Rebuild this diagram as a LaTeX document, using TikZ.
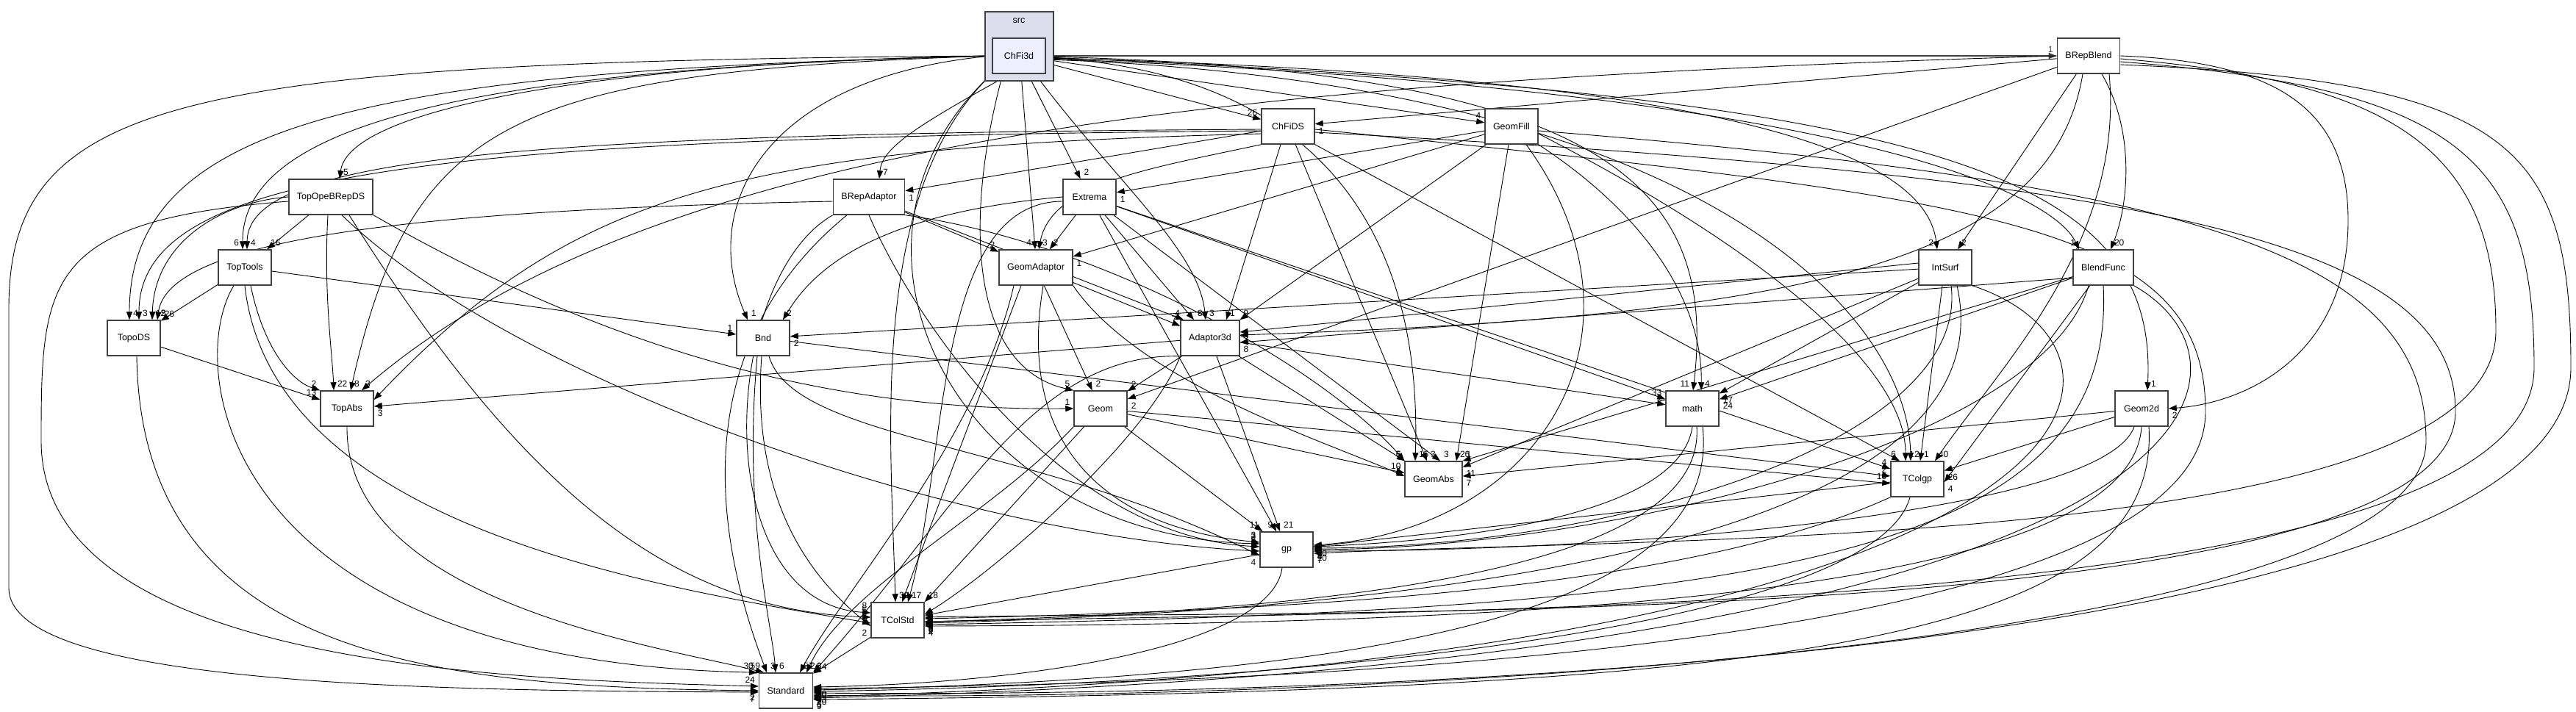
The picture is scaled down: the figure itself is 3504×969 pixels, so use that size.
\documentclass[tikz,border=0pt]{standalone}
\usepackage{fontspec}
\setmainfont{Liberation Sans}
\usetikzlibrary{arrows.meta}
\pgfdeclarelayer{edges}
\pgfsetlayers{edges,main}
\definecolor{dirborder}{HTML}{404040}
\definecolor{srcfill}{HTML}{DDDDEE}
\definecolor{mainfill}{HTML}{EEEEFF}
\newcommand{\dirfont}{\fontsize{12.5}{15}\selectfont}
\newcommand{\cntfont}{\fontsize{12}{14}\selectfont}

\begin{document}
\begin{tikzpicture}[
  x=1pt, y=-1pt,
  dirbox/.style={draw=dirborder, line width=1.5pt, fill=white, minimum width=72pt, minimum height=48pt, inner xsep=11pt, font=\dirfont},
  dep/.style={-{Triangle[length=11pt,width=8pt]}, line width=0.9pt, black},
  hl/.style={pos=1, anchor=#1, inner sep=1pt, outer sep=4pt, font=\cntfont}
]
\useasboundingbox (0,0) rectangle (3504,969);

\node[draw=dirborder, line width=1.5pt, fill=srcfill, minimum width=93pt, minimum height=94pt] (srcdir) at (1386.5,63) {};
\node[font=\dirfont] (srclabel) at (1386,28) {src};
\node[dirbox, fill=mainfill] (chfi3d) at (1386,76) {ChFi3d};
\node[dirbox] (brepblend) at (2841,76) {BRepBlend};
\node[dirbox] (chfids) at (1752,172) {ChFiDS};
\node[dirbox] (geomfill) at (2056,172) {GeomFill};
\node[dirbox] (topope) at (450,268) {TopOpeBRepDS};
\node[dirbox] (brepadapt) at (1182,268) {BRepAdaptor};
\node[dirbox] (extrema) at (1482,268) {Extrema};
\node[dirbox] (toptools) at (333,364) {TopTools};
\node[dirbox] (geomadapt) at (1409,364) {GeomAdaptor};
\node[dirbox] (intsurf) at (2646,364) {IntSurf};
\node[dirbox] (blendfunc) at (2861,364) {BlendFunc};
\node[dirbox] (topods) at (182,460) {TopoDS};
\node[dirbox] (bnd) at (1038,460) {Bnd};
\node[dirbox] (adapt3d) at (1646,460) {Adaptor3d};
\node[dirbox] (topabs) at (472,556) {TopAbs};
\node[dirbox] (geom) at (1497,556) {Geom};
\node[dirbox] (math) at (2302,556) {math};
\node[dirbox] (geom2d) at (2913,556) {Geom2d};
\node[dirbox] (geomabs) at (1950,652) {GeomAbs};
\node[dirbox] (tcolgp) at (2608,652) {TColgp};
\node[dirbox] (gp) at (1750,748) {gp};
\node[dirbox] (tcolstd) at (1221,844) {TColStd};
\node[dirbox] (standard) at (1069,940) {Standard};

\begin{pgfonlayer}{edges}
\draw[dep, line width=1.6pt, black!75] (chfi3d.east) -- (brepblend.west) node[hl=south east] {1};
\draw[dep] (chfi3d) -- (chfids) node[hl=south east] {26};
\draw[dep] (chfi3d) -- (geomfill) node[hl=south east] {4};
\draw[dep] (chfi3d.west) .. controls (800,86) and (474,150) .. ([xshift=12pt]topope.north) node[hl=south west] {5};
\draw[dep] (chfi3d.west) .. controls (640,92) and (330,170) .. ([xshift=-3pt]toptools.north) node[hl=south east] {6};
\draw[dep] (chfi3d.west) .. controls (520,96) and (176,160) .. ([xshift=-6pt]topods.north) node[hl=south west] {4};
\draw[dep] (chfi3d.west) .. controls (700,98) and (560,160) .. ([xshift=5pt]topabs.north) node[hl=south west] {8};
\draw[dep] (chfi3d.west) .. controls (1040,104) and (950,280) .. ([xshift=-21pt]bnd.north) node[hl=south west] {1};
\draw[dep] (chfi3d.west) .. controls (250,84) and (12,130) .. (12,420) -- (12,800) .. controls (12,935) and (600,940) .. ([yshift=-2pt]standard.west) node[hl=north east] {7};
\draw[dep] ([xshift=-12pt]chfi3d.south) .. controls (1250,170) and (1200,200) .. ([xshift=14pt]brepadapt.north) node[hl=south west] {7};
\draw[dep] (chfi3d) -- (extrema) node[hl=south west] {2};
\draw[dep] ([xshift=3pt]chfi3d.south) -- ([xshift=-1pt]geomadapt.north) node[hl=south east] {4};
\draw[dep] ([xshift=22pt]chfi3d.south) .. controls (1520,250) and (1630,340) .. ([xshift=-6pt]adapt3d.north) node[hl=south west] {3};
\draw[dep] ([xshift=-22pt]chfi3d.south) .. controls (1310,300) and (1320,500) .. (geom.north west) node[hl=south east] {5};
\draw[dep] (chfi3d.south west) .. controls (1180,260) and (1212,600) .. ([xshift=-3pt]tcolstd.north) node[hl=south west] {39};
\draw[dep] (chfi3d.south west) .. controls (1100,330) and (1300,730) .. ([yshift=8pt]gp.west) node[hl=south east] {3};
\draw[dep] ([yshift=-2pt]chfi3d.east) .. controls (1800,100) and (1935,320) .. ([xshift=-25pt]geomabs.north) node[hl=south west] {15};
\draw[dep] ([yshift=-1pt]chfi3d.east) .. controls (2200,96) and (2335,260) .. ([xshift=1pt]math.north) node[hl=south east] {11};
\draw[dep] ([yshift=-3pt]chfi3d.east) .. controls (2400,104) and (2620,220) .. ([xshift=-11pt]intsurf.north) node[hl=south east] {2};
\draw[dep] ([yshift=-4pt]chfi3d.east) .. controls (2500,120) and (2790,260) .. ([xshift=-33pt]blendfunc.north) node[hl=south east] {1};
\draw[dep] ([yshift=-2pt]chfi3d.east) .. controls (2650,130) and (2935,240) .. ([xshift=8pt]geom2d.north) node[hl=south west] {1};
\draw[dep] ([yshift=-5pt]chfi3d.east) .. controls (2300,110) and (2595,420) .. ([xshift=-9pt]tcolgp.north) node[hl=south west] {2};

\draw[dep] (brepblend) -- (chfids) node[hl=north west] {1};
\draw[dep] (brepblend) -- ([xshift=17pt]intsurf.north) node[hl=south west] {2};
\draw[dep] ([xshift=18pt]brepblend.south) .. controls (2905,180) and (2895,280) .. ([xshift=10pt]blendfunc.north) node[hl=south west] {20};
\draw[dep] (brepblend.east) .. controls (3100,84) and (3194,150) .. (3194,300) .. controls (3194,480) and (3060,548) .. (geom2d.east) node[hl=north west] {2};
\draw[dep] ([xshift=-8pt]brepblend.south) .. controls (2790,360) and (2450,430) .. ([yshift=4pt]adapt3d.east) node[hl=north west] {4};
\draw[dep] (brepblend) -- (geom) node[hl=north west] {2};
\draw[dep] ([xshift=28pt]brepblend.south) .. controls (2890,330) and (2720,500) .. ([xshift=24pt]tcolgp.north) node[hl=south west] {40};
\draw[dep] (brepblend.west) .. controls (1700,110) and (900,180) .. ([xshift=20pt]topabs.north) node[hl=south west] {3};
\draw[dep] ([yshift=-4pt]brepblend.east) .. controls (3250,110) and (3395,200) .. (3395,450) .. controls (3395,745) and (2300,730) .. ([yshift=-5pt]gp.east) node[hl=north west] {7};
\draw[dep] ([yshift=-8pt]brepblend.east) .. controls (3350,120) and (3447,220) .. (3447,500) .. controls (3447,840) and (2000,830) .. ([yshift=-2pt]tcolstd.east) node[hl=north west] {6};
\draw[dep] ([yshift=-12pt]brepblend.east) .. controls (3420,110) and (3497,200) .. (3497,500) .. controls (3497,900) and (1800,950) .. ([yshift=-3pt]standard.east) node[hl=north west] {13};

\draw[dep] (chfids) -- (brepadapt) node[hl=north west] {1};
\draw[dep] ([yshift=-4pt]chfids.west) .. controls (700,182) and (337,215) .. ([xshift=3pt]toptools.north) node[hl=south west] {4};
\draw[dep] ([yshift=-6pt]chfids.west) .. controls (600,188) and (189,230) .. ([xshift=7pt]topods.north) node[hl=south west] {3};
\draw[dep] ([yshift=-10pt]chfids.west) .. controls (1000,200) and (780,260) .. ([yshift=12pt]topabs.east) node[hl=north west] {5};
\draw[dep] ([xshift=-10pt]chfids.south) -- ([xshift=22pt]adapt3d.north) node[hl=south west] {1};
\draw[dep] (chfids.south west) .. controls (1560,230) and (1430,250) .. ([xshift=4pt]geomadapt.north) node[hl=south west] {3};
\draw[dep] (chfids) -- ([xshift=-9pt]geomabs.north) node[hl=south west] {3};
\draw[dep] (chfids.south east) -- ([xshift=-24pt]tcolgp.north) node[hl=south east] {6};
\draw[dep] ([yshift=-4pt]chfids.east) .. controls (2700,270) and (3000,300) .. (3000,560) .. controls (3000,880) and (1800,930) .. ([yshift=3pt]standard.east) node[hl=north west] {10};
\draw[dep] ([yshift=-8pt]chfids.east) .. controls (2900,240) and (3340,320) .. (3340,560) .. controls (3340,860) and (1800,830) .. ([yshift=4pt]tcolstd.east) node[hl=north west] {3};

\draw[dep] (geomfill) -- (extrema) node[hl=north west] {1};
\draw[dep] (geomfill) -- (geomadapt) node[hl=north west] {1};
\draw[dep] (geomfill) -- (adapt3d.north east) node[hl=south west] {9};
\draw[dep] ([xshift=-4pt]geomfill.south) -- ([xshift=31pt]geomabs.north) node[hl=south west] {26};
\draw[dep] (geomfill.south east) .. controls (2250,300) and (2316,420) .. ([xshift=12pt]math.north) node[hl=south west] {4};
\draw[dep] ([xshift=20pt]geomfill.south) .. controls (2260,450) and (2100,720) .. ([yshift=6pt]gp.east) node[hl=north west] {3};
\draw[dep] ([yshift=-10pt]geomfill.east) .. controls (2400,340) and (2592,500) .. ([xshift=-16pt]tcolgp.north) node[hl=south west] {1};
\draw[dep] ([yshift=-6pt]geomfill.east) .. controls (3000,250) and (3300,350) .. (3300,600) .. controls (3300,900) and (1700,955) .. ([yshift=-6pt]standard.east) node[hl=north west] {20};

\draw[dep] (topope) -- (toptools) node[hl=south west] {16};
\draw[dep] (topope.west) .. controls (300,275) and (210,330) .. ([xshift=25pt]topods.north) node[hl=south west] {12};
\draw[dep] ([xshift=-4pt]topope.south) .. controls (440,400) and (452,480) .. ([xshift=-18pt]topabs.north) node[hl=south west] {22};
\draw[dep] ([yshift=-6pt]topope.west) .. controls (60,300) and (56,380) .. (56,600) .. controls (56,910) and (700,925) .. ([yshift=6pt]standard.west) node[hl=south east] {24};
\draw[dep] (topope.south east) .. controls (800,460) and (1100,560) .. (geom.west) node[hl=south east] {1};
\draw[dep] ([xshift=25pt]topope.south) .. controls (700,650) and (900,830) .. ([yshift=4pt]tcolstd.west) node[hl=south east] {5};
\draw[dep] ([xshift=15pt]topope.south) .. controls (700,520) and (1300,730) .. ([yshift=-2pt]gp.west) node[hl=south east] {2};

\draw[dep] (toptools) -- (topods) node[hl=south west] {26};
\draw[dep] ([xshift=8pt]toptools.south) .. controls (360,480) and (400,520) .. (topabs.north west) node[hl=south east] {2};
\draw[dep] (toptools) -- (bnd) node[hl=south east] {1};
\draw[dep] ([xshift=-15pt]toptools.south) .. controls (250,500) and (300,900) .. ([xshift=-2pt]standard.north west) node[hl=south east] {30};
\draw[dep] (toptools.south) .. controls (370,720) and (900,800) .. ([yshift=-4pt]tcolstd.west) node[hl=south east] {3};

\draw[dep] (topods) -- (topabs) node[hl=south east] {13};
\draw[dep] ([xshift=4pt]topods.south) .. controls (192,900) and (600,935) .. (standard.west) node[hl=north east] {2};

\draw[dep] (brepadapt) -- (geomadapt) node[hl=south east] {2};
\draw[dep] ([yshift=-6pt]brepadapt.west) .. controls (600,285) and (230,320) .. ([xshift=32pt]topods.north) node[hl=south west] {5};
\draw[dep] (brepadapt) -- ([xshift=-36pt]adapt3d.north) node[hl=south east] {4};
\draw[dep] (brepadapt.south east) .. controls (1500,330) and (1800,500) .. (geomabs.north west) node[hl=south east] {6};
\draw[dep] (brepadapt.south) .. controls (1250,450) and (1450,730) .. ([yshift=4pt]gp.west) node[hl=south east] {5};
\draw[dep] (brepadapt.south west) .. controls (980,380) and (960,820) .. ([yshift=10pt]tcolstd.west) node[hl=south east] {8};
\draw[dep] ([xshift=-30pt]brepadapt.south) .. controls (900,500) and (1000,800) .. ([xshift=-26pt]standard.north) node[hl=south west] {3};

\draw[dep] (extrema) -- (geomadapt) node[hl=south west] {2};
\draw[dep] (extrema.west) .. controls (1200,290) and (1110,360) .. ([xshift=27pt]bnd.north) node[hl=south west] {2};
\draw[dep] (extrema) -- ([xshift=-22pt]adapt3d.north) node[hl=south west] {8};
\draw[dep] (extrema) -- (math) node[hl=south east] {33};
\draw[dep] (extrema) -- ([xshift=9pt]geomabs.north) node[hl=south west] {3};
\draw[dep] (extrema) -- ([yshift=14pt]tcolgp.west) node[hl=south east] {4};
\draw[dep] (extrema) -- (gp) node[hl=south east] {9};
\draw[dep] ([yshift=-6pt]extrema.west) .. controls (1270,275) and (1290,620) .. ([xshift=14pt]tcolstd.north) node[hl=south west] {17};

\draw[dep] (geomadapt) -- (adapt3d) node[hl=south east] {7};
\draw[dep] (geomadapt) -- (geom) node[hl=south west] {2};
\draw[dep] (geomadapt.south east) .. controls (1550,520) and (1800,600) .. ([yshift=4pt]geomabs.west) node[hl=south east] {2};
\draw[dep] ([xshift=10pt]geomadapt.south) .. controls (1380,620) and (1520,720) .. ([yshift=10pt]gp.west) node[hl=south east] {3};
\draw[dep] ([xshift=-20pt]geomadapt.south) -- ([xshift=6pt]tcolstd.north) node[hl=south west] {1};
\draw[dep] ([xshift=-30pt]geomadapt.south) .. controls (1330,600) and (1150,800) .. ([xshift=19pt]standard.north) node[hl=south west] {57};

\draw[dep] (intsurf) -- (bnd) node[hl=north west] {2};
\draw[dep] ([yshift=6pt]intsurf.west) -- ([yshift=8pt]adapt3d.east) node[hl=north west] {3};
\draw[dep] (intsurf) -- (math) node[hl=north west] {17};
\draw[dep] (intsurf) -- (geomabs) node[hl=north west] {11};
\draw[dep] ([xshift=-4pt]intsurf.south) -- ([xshift=4pt]tcolgp.north) node[hl=south west] {1};
\draw[dep] ([xshift=8pt]intsurf.south) .. controls (2680,600) and (2200,745) .. ([yshift=2pt]gp.east) node[hl=north west] {2};
\draw[dep] ([xshift=16pt]intsurf.south) .. controls (2720,650) and (2300,820) .. ([yshift=-4pt]tcolstd.east) node[hl=north west] {6};
\draw[dep] (intsurf.south east) .. controls (2960,480) and (2900,900) .. ([yshift=-8pt]standard.east) node[hl=north west] {4};

\draw[dep] ([yshift=-14pt]blendfunc.west) -- ([yshift=-6pt]adapt3d.east) node[hl=north west] {8};
\draw[dep] (blendfunc) -- (math) node[hl=north west] {24};
\draw[dep] (blendfunc) -- (geomabs.north east) node[hl=south west] {1};
\draw[dep] (blendfunc) -- ([yshift=-4pt]tcolgp.east) node[hl=north west] {4};
\draw[dep] ([xshift=-20pt]blendfunc.south) .. controls (2780,600) and (2200,745) .. (gp.east) node[hl=north west] {8};
\draw[dep] (blendfunc.south) .. controls (2880,760) and (2400,830) .. ([yshift=-6pt]tcolstd.east) node[hl=north west] {2};
\draw[dep] (blendfunc.south east) .. controls (3100,500) and (3050,900) .. ([yshift=-10pt]standard.east) node[hl=north west] {5};

\draw[dep] (bnd) -- ([yshift=4pt]tcolgp.west) node[hl=south east] {2};
\draw[dep] ([xshift=8pt]bnd.south) .. controls (1080,600) and (1400,600) .. ([yshift=-8pt]gp.west) node[hl=north east] {4};
\draw[dep] ([xshift=-8pt]bnd.south) .. controls (1010,700) and (1050,850) .. ([xshift=-14pt]standard.north) node[hl=south west] {6};
\draw[dep] ([xshift=-2pt]bnd.south) .. controls (1020,700) and (1120,800) .. ([yshift=-8pt]tcolstd.west) node[hl=north east] {2};

\draw[dep] (adapt3d) -- (topabs) node[hl=north west] {3};
\draw[dep] (adapt3d) -- (geom) node[hl=south west] {2};
\draw[dep] (adapt3d) -- (math) node[hl=south east] {1};
\draw[dep] (adapt3d) -- (geomabs) node[hl=south east] {5};
\draw[dep] (adapt3d) -- (gp) node[hl=south west] {21};
\draw[dep] (adapt3d.south west) .. controls (1560,600) and (1350,780) .. ([yshift=8pt]tcolstd.east) node[hl=north west] {3};
\draw[dep] (adapt3d.south west) .. controls (1400,480) and (1300,700) .. (standard.north east) node[hl=south west] {8};

\draw[dep] (geom) -- (geomabs) node[hl=south east] {10};
\draw[dep] (geom) -- ([yshift=-6pt]tcolgp.west) node[hl=south east] {10};
\draw[dep] (geom) -- (gp) node[hl=south east] {11};
\draw[dep] (geom) -- (tcolstd.north east) node[hl=south west] {18};
\draw[dep] (geom.south west) .. controls (1350,700) and (1150,800) .. ([xshift=28pt]standard.north) node[hl=south west] {2};

\draw[dep] (math.south) .. controls (2285,700) and (2000,735) .. ([yshift=4pt]gp.east) node[hl=north west] {40};
\draw[dep] ([xshift=6pt]math.south) .. controls (2320,760) and (1900,830) .. ([yshift=-2pt]tcolstd.east) node[hl=north west] {2};
\draw[dep] ([xshift=14pt]math.south) .. controls (2340,800) and (2000,920) .. ([yshift=1pt]standard.east) node[hl=north west] {5};

\draw[dep] (geom2d) -- (geomabs) node[hl=north west] {7};
\draw[dep] (geom2d) -- (tcolgp) node[hl=north west] {26};
\draw[dep] ([xshift=-10pt]geom2d.south) .. controls (2860,700) and (2200,750) .. ([yshift=-2pt]gp.east) node[hl=north west] {10};
\draw[dep] (geom2d.south) .. controls (2900,780) and (2300,850) .. ([yshift=-8pt]tcolstd.east) node[hl=north west] {4};
\draw[dep] ([xshift=10pt]geom2d.south) .. controls (2940,880) and (2400,940) .. ([yshift=-12pt]standard.east) node[hl=north west] {9};

\draw[dep] (tcolgp) -- (gp) node[hl=north west] {1};
\draw[dep] (tcolgp.south west) .. controls (2300,800) and (1800,830) .. ([yshift=2pt]tcolstd.east) node[hl=north west] {2};
\draw[dep] ([xshift=-10pt]tcolgp.south) .. controls (2550,850) and (1800,930) .. ([yshift=-1pt]standard.east) node[hl=north west] {4};

\draw[dep] (gp) -- (tcolstd) node[hl=north west] {3};
\draw[dep] ([xshift=-6pt]gp.south) .. controls (1730,880) and (1400,930) .. ([yshift=5pt]standard.east) node[hl=north west] {20};

\draw[dep] (tcolstd) -- (standard) node[hl=south west] {64};
\draw[dep] (topabs.south) .. controls (470,820) and (900,880) .. ([xshift=-30pt]standard.north) node[hl=south east] {59};
\end{pgfonlayer}

\end{tikzpicture}
\end{document}
